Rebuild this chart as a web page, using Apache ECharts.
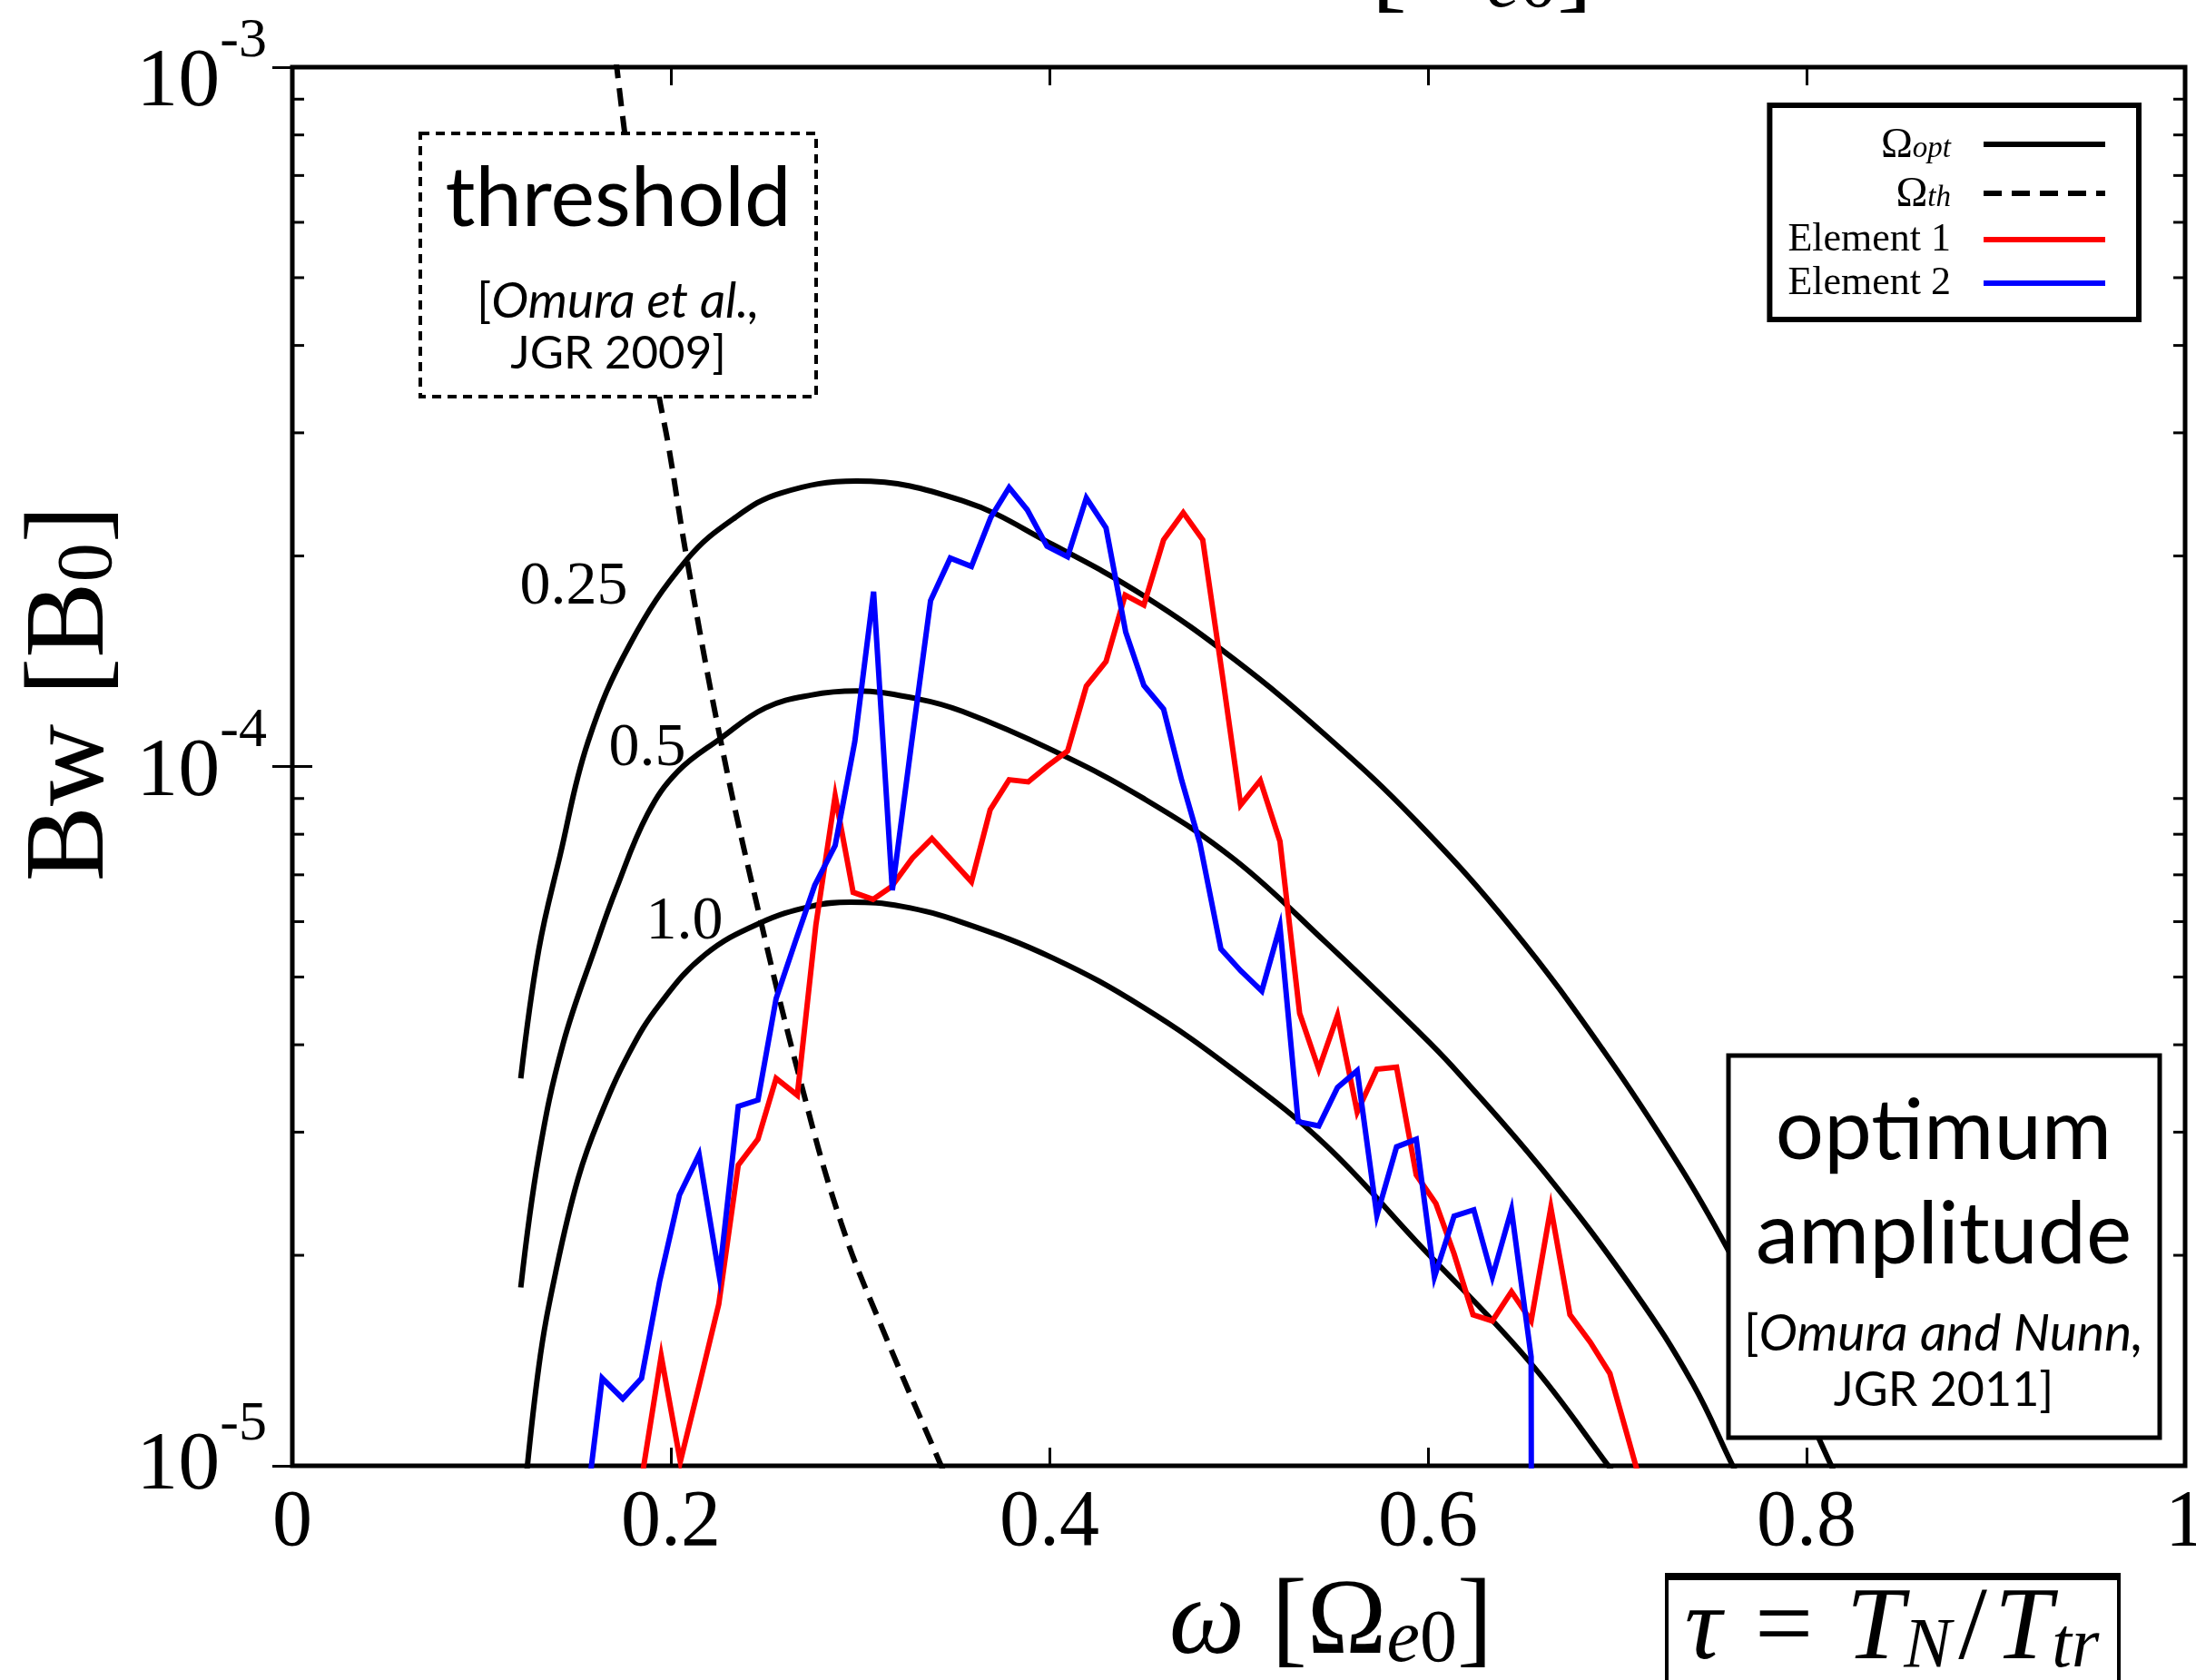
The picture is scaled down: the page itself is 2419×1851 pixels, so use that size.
<!DOCTYPE html>
<html>
<head>
<meta charset="utf-8">
<title>Bw versus wave frequency</title>
<script src="https://cdn.jsdelivr.net/npm/echarts@6/dist/echarts.min.js"></script>
<style>
  html, body { margin: 0; padding: 0; background: #fff; }
  #chart { width: 2419px; height: 1851px; }
</style>
</head>
<body>
<div id="chart"></div>
<script>
// ---- data: frequency ω [Ω_e0] and wave amplitude Bw [B0] ----

// Element 1 (simulation)
const omegaE1 = [0.1845,0.1949,0.2050,0.2152,0.2253,0.2356,0.2460,0.2556,0.2668,0.2766,0.2868,0.2963,0.3068,0.3165,0.3276,0.3379,0.3484,0.3588,0.3687,0.3787,0.3888,0.3990,0.4096,0.4195,0.4299,0.4400,0.4499,0.4603,0.4707,0.4810,0.4914,0.5010,0.5114,0.5218,0.5322,0.5423,0.5522,0.5626,0.5730,0.5834,0.5938,0.6042,0.6138,0.6238,0.6340,0.6441,0.6545,0.6649,0.6750,0.6857,0.6961,0.7057,0.7160];
const bwE1 = [9.55e-6,1.435e-5,1.014e-5,1.312e-5,1.702e-5,2.692e-5,2.931e-5,3.581e-5,3.388e-5,5.929e-5,9.078e-5,6.607e-5,6.457e-5,6.730e-5,7.396e-5,7.889e-5,7.345e-5,6.839e-5,8.670e-5,9.572e-5,9.506e-5,1.002e-4,1.052e-4,1.303e-4,1.413e-4,1.758e-4,1.702e-4,2.109e-4,2.307e-4,2.109e-4,1.349e-4,8.810e-5,9.550e-5,7.816e-5,4.436e-5,3.690e-5,4.406e-5,3.206e-5,3.690e-5,3.715e-5,2.606e-5,2.371e-5,2.009e-5,1.644e-5,1.611e-5,1.774e-5,1.611e-5,2.339e-5,1.644e-5,1.503e-5,1.355e-5,1.096e-5,8.71e-6];

// Element 2 (simulation)
const omegaE2 = [0.1535,0.1637,0.1746,0.1845,0.1940,0.2045,0.2149,0.2256,0.2356,0.2460,0.2556,0.2658,0.2760,0.2868,0.2972,0.3071,0.3170,0.3270,0.3372,0.3476,0.3588,0.3690,0.3787,0.3883,0.3987,0.4096,0.4195,0.4299,0.4403,0.4499,0.4603,0.4699,0.4795,0.4906,0.5010,0.5122,0.5218,0.5314,0.5423,0.5522,0.5626,0.5730,0.5834,0.5938,0.6034,0.6138,0.6242,0.6340,0.6441,0.6545,0.6555];
const bwE2 = [7.94e-6,1.334e-5,1.247e-5,1.334e-5,1.832e-5,2.438e-5,2.786e-5,1.866e-5,3.266e-5,3.334e-5,4.656e-5,5.623e-5,6.761e-5,7.709e-5,1.086e-4,1.778e-4,6.653e-5,1.072e-4,1.726e-4,1.986e-4,1.932e-4,2.270e-4,2.506e-4,2.328e-4,2.065e-4,1.995e-4,2.421e-4,2.193e-4,1.556e-4,1.306e-4,1.208e-4,9.55e-5,7.762e-5,5.483e-5,5.105e-5,4.775e-5,5.902e-5,3.105e-5,3.062e-5,3.475e-5,3.673e-5,2.280e-5,2.858e-5,2.931e-5,1.862e-5,2.275e-5,2.323e-5,1.862e-5,2.323e-5,1.432e-5,1e-7];

// threshold amplitude Ω_th
const omegaTh = [0.1710,0.1745,0.1830,0.1925,0.1989,0.2085,0.2261,0.2436,0.2676,0.2900,0.3130,0.3428,0.3460];
const bwTh = [1.023e-3,8.511e-4,5.623e-4,3.548e-4,2.858e-4,1.977e-4,1.096e-4,6.668e-5,3.622e-5,2.223e-5,1.542e-5,1.0e-5,9.55e-6];

// optimum amplitude Ω_opt for τ = 0.25, 0.5, 1.0
const omegaOpt025 = [0.1207,0.1302,0.1414,0.1562,0.1784,0.2085,0.2340,0.2580,0.2980,0.3540,0.4019,0.4499,0.4978,0.5458,0.5938,0.6449,0.6929,0.7329,0.7583,0.7850,0.8080,0.8200];
const bwOpt025 = [3.581e-5,5.47e-5,7.447e-5,1.084e-4,1.496e-4,1.977e-4,2.270e-4,2.460e-4,2.559e-4,2.399e-4,2.075e-4,1.754e-4,1.422e-4,1.109e-4,8.356e-5,5.848e-5,3.917e-5,2.685e-5,2.042e-5,1.479e-5,1.072e-5,9.12e-6];

const omegaOpt05 = [0.1207,0.1302,0.1429,0.1605,0.1710,0.1877,0.2037,0.2261,0.2500,0.2740,0.2980,0.3300,0.3540,0.4019,0.4499,0.4978,0.5458,0.5938,0.6129,0.6609,0.7089,0.7400,0.7610,0.7650];
const bwOpt05 = [1.799e-5,2.773e-5,3.999e-5,5.559e-5,6.668e-5,8.551e-5,9.840e-5,1.096e-4,1.213e-4,1.265e-4,1.282e-4,1.250e-4,1.199e-4,1.054e-4,8.995e-5,7.362e-5,5.610e-5,4.207e-5,3.724e-5,2.642e-5,1.778e-5,1.309e-5,1.0e-5,9.55e-6];

const omegaOpt10 = [0.1207,0.1302,0.1397,0.1510,0.1621,0.1781,0.1941,0.2181,0.2469,0.2740,0.2948,0.3220,0.3540,0.4019,0.4499,0.4978,0.5458,0.5938,0.6529,0.6953,0.7000];
const bwOpt10 = [7.94e-6,1.384e-5,1.923e-5,2.576e-5,3.133e-5,3.899e-5,4.571e-5,5.383e-5,5.970e-5,6.310e-5,6.397e-5,6.310e-5,5.984e-5,5.321e-5,4.519e-5,3.673e-5,2.877e-5,2.094e-5,1.416e-5,1.0e-5,9.55e-6];

// axis ticks
const xTicks = [0, 0.2, 0.4, 0.6, 0.8, 1];
const yMinorTicks = [2e-5,3e-5,4e-5,5e-5,6e-5,7e-5,8e-5,9e-5,2e-4,3e-4,4e-4,5e-4,6e-4,7e-4,8e-4,9e-4];

// legend entries
const legendNames = ['Ω_opt', 'Ω_th', 'Element 1', 'Element 2'];

// ---- drawing ----
const SERIF = "'Liberation Serif', 'Times New Roman', serif";
const SANS = "Lato, 'Open Sans', sans-serif";

function pairs(xs, ys) { return xs.map((x, i) => [x, ys[i]]); }

const optLine = { color: '#000', width: 6 };

// rich-text pieces for "ω [Ω_e0]"
const omegaTitleRich = {
  w: { fontFamily: SERIF, fontSize: 118, lineHeight: 118, fontStyle: 'italic', fill: '#000', verticalAlign: 'top' },
  b: { fontFamily: SERIF, fontSize: 118, lineHeight: 118, fill: '#000', verticalAlign: 'top' },
  e: { fontFamily: SERIF, fontSize: 82, lineHeight: 82, fontStyle: 'italic', fill: '#000', padding: [42, 0, 0, 0], verticalAlign: 'bottom' },
  s: { fontFamily: SERIF, fontSize: 82, lineHeight: 82, fill: '#000', padding: [42, 0, 0, 0], verticalAlign: 'bottom' }
};
const omegaTitleText = '{w|ω}{b| [Ω}{e|e}{s|0}{b|]}';

// "10" with a raised exponent; drop = downward shift of the "10" below its tick
function powerStyles(drop) {
  return {
    base: { fontFamily: SERIF, fontSize: 92, lineHeight: 92 + 2 * drop, color: '#000', verticalAlign: 'bottom' },
    exp: { fontFamily: SERIF, fontSize: 62, lineHeight: 20, color: '#000', verticalAlign: 'bottom', padding: [0, 0, 61, 0] }
  };
}
const pTop = powerStyles(18), pMid = powerStyles(7), pLow = powerStyles(1);

const chart = echarts.init(document.getElementById('chart'), null, { renderer: 'canvas' });

const option = {
  animation: false,
  backgroundColor: '#fff',
  grid: {
    left: 322, right: 12, top: 74, bottom: 236,
    outerBoundsMode: 'none', containLabel: false,
    show: true, borderColor: '#000', borderWidth: 5, backgroundColor: 'transparent'
  },
  xAxis: [
    {
      type: 'value', min: xTicks[0], max: xTicks[xTicks.length - 1], interval: 0.2,
      position: 'bottom',
      axisLine: { show: false },
      axisTick: { inside: true, length: 20, lineStyle: { color: '#000', width: 3 } },
      splitLine: { show: false },
      axisLabel: {
        margin: 20, fontFamily: SERIF, fontSize: 88, color: '#000',
        formatter: v => String(+v.toFixed(1))
      }
    },
    {
      type: 'value', min: xTicks[0], max: xTicks[xTicks.length - 1], interval: 0.2,
      position: 'top',
      axisLine: { show: false },
      axisTick: { inside: true, length: 20, lineStyle: { color: '#000', width: 3 } },
      splitLine: { show: false },
      axisLabel: { show: false }
    }
  ],
  yAxis: [
    {
      type: 'log', logBase: 10, min: 1e-5, max: 1e-3,
      position: 'left',
      axisLine: { show: false },
      axisTick: { inside: true, length: 22, lineStyle: { color: '#000', width: 3 } },
      splitLine: { show: false },
      axisLabel: {
        margin: 28,
        formatter: v => {
          const e = Math.round(Math.log10(v));
          const k = e === -3 ? 't' : (e === -4 ? 'm' : 'l');
          return '{' + k + 'b|10}{' + k + 'e|' + e + '}';
        },
        rich: {
          tb: pTop.base, te: pTop.exp,
          mb: pMid.base, me: pMid.exp,
          lb: pLow.base, le: pLow.exp
        }
      }
    },
    {
      type: 'log', logBase: 10, min: 1e-5, max: 1e-3,
      position: 'right',
      axisLine: { show: false },
      axisTick: { inside: true, length: 22, lineStyle: { color: '#000', width: 3 } },
      splitLine: { show: false },
      axisLabel: { show: false }
    }
  ],
  legend: {
    data: legendNames,
    orient: 'vertical',
    align: 'right',
    right: 63,
    top: 116,
    itemWidth: 134,
    itemHeight: 14,
    itemGap: 4,
    padding: [18, 34, 18, 20],
    borderColor: '#000',
    borderWidth: 6,
    backgroundColor: '#fff',
    selectedMode: false,
    itemStyle: { opacity: 0 },
    lineStyle: { width: 6 },
    formatter: n => {
      if (n === 'Ω_opt') return '{om|Ω}{sub|opt}';
      if (n === 'Ω_th') return '{om|Ω}{sub|th}';
      return '{tx|' + n + '}';
    },
    textStyle: {
      color: '#000', fontFamily: SERIF, fontSize: 44, padding: [0, 31, 0, 0],
      rich: {
        om: { fontFamily: SERIF, fontSize: 47, lineHeight: 44, color: '#000', verticalAlign: 'top' },
        sub: { fontFamily: SERIF, fontSize: 33, lineHeight: 30, fontStyle: 'italic', color: '#000', padding: [14, 0, 0, 0], verticalAlign: 'bottom' },
        tx: { fontFamily: SERIF, fontSize: 44, lineHeight: 44, color: '#000' }
      }
    }
  },
  series: [
    {
      name: 'Ω_opt', type: 'line', data: pairs(omegaOpt025, bwOpt025),
      symbol: 'none', smooth: 0.4, lineStyle: optLine, color: '#000', z: 3
    },
    {
      name: 'Ω_opt', type: 'line', data: pairs(omegaOpt05, bwOpt05),
      symbol: 'none', smooth: 0.4, lineStyle: optLine, color: '#000', z: 3
    },
    {
      name: 'Ω_opt', type: 'line', data: pairs(omegaOpt10, bwOpt10),
      symbol: 'none', smooth: 0.4, lineStyle: optLine, color: '#000', z: 3
    },
    {
      name: 'Ω_th', type: 'line', data: pairs(omegaTh, bwTh),
      symbol: 'none', smooth: 0.4, color: '#000',
      lineStyle: { color: '#000', width: 6, type: [20, 11] }, z: 3
    },
    {
      name: 'Element 1', type: 'line', data: pairs(omegaE1, bwE1),
      symbol: 'none', color: '#ff0000',
      lineStyle: { color: '#ff0000', width: 6, join: 'miter' }, z: 4
    },
    {
      name: 'Element 2', type: 'line', data: pairs(omegaE2, bwE2),
      symbol: 'none', color: '#0000ff',
      lineStyle: { color: '#0000ff', width: 6, join: 'miter' }, z: 5
    },
    {
      // minor ticks at 2..9 × 10^n on both vertical frame edges
      name: 'minor ticks', type: 'custom', silent: true, clip: false, z: 6,
      data: yMinorTicks.map(v => [0, v]),
      renderItem: (params, api) => {
        const cs = params.coordSys;
        const y = api.coord([0, api.value(1)])[1];
        const st = { stroke: '#000', lineWidth: 3 };
        return {
          type: 'group',
          children: [
            { type: 'line', shape: { x1: cs.x, y1: y, x2: cs.x + 13, y2: y }, style: st },
            { type: 'line', shape: { x1: cs.x + cs.width - 13, y1: y, x2: cs.x + cs.width, y2: y }, style: st }
          ]
        };
      }
    }
  ],
  graphic: [
    // curve labels (τ values)
    { type: 'text', z: 90, x: 632, y: 647, style: { text: '0.25', fontFamily: SERIF, fontSize: 68, fill: '#000', align: 'center', verticalAlign: 'middle' } },
    { type: 'text', z: 90, x: 713, y: 825, style: { text: '0.5', fontFamily: SERIF, fontSize: 68, fill: '#000', align: 'center', verticalAlign: 'middle' } },
    { type: 'text', z: 90, x: 754, y: 1016, style: { text: '1.0', fontFamily: SERIF, fontSize: 68, fill: '#000', align: 'center', verticalAlign: 'middle' } },

    // threshold note
    { type: 'rect', z: 100, shape: { x: 463, y: 147, width: 436, height: 290 },
      style: { fill: '#fff', stroke: '#000', lineWidth: 4, lineDash: [10, 7] } },
    { type: 'text', z: 101, x: 681, y: 219,
      style: { text: 'threshold', fontFamily: SANS, fontSize: 92, fill: '#000', align: 'center', verticalAlign: 'middle' } },
    { type: 'text', z: 101, x: 681, y: 332,
      style: { text: '{u|[}{i|Omura et al.,}', align: 'center', verticalAlign: 'middle',
        rich: { u: { fontFamily: SANS, fontSize: 52, fill: '#000' },
                i: { fontFamily: SANS, fontSize: 55, fontStyle: 'italic', fill: '#000' } } } },
    { type: 'text', z: 101, x: 681, y: 390,
      style: { text: 'JGR 2009]', fontFamily: SANS, fontSize: 51, fill: '#000', align: 'center', verticalAlign: 'middle' } },

    // optimum amplitude note
    { type: 'rect', z: 100, shape: { x: 1904, y: 1163, width: 475, height: 421 },
      style: { fill: '#fff', stroke: '#000', lineWidth: 5 } },
    { type: 'text', z: 101, x: 2141, y: 1247,
      style: { text: 'optimum', fontFamily: SANS, fontSize: 94, fill: '#000', align: 'center', verticalAlign: 'middle' } },
    { type: 'text', z: 101, x: 2141, y: 1361,
      style: { text: 'amplitude', fontFamily: SANS, fontSize: 95, fill: '#000', align: 'center', verticalAlign: 'middle' } },
    { type: 'text', z: 101, x: 2141, y: 1470,
      style: { text: '{u|[}{i|Omura and Nunn,}', align: 'center', verticalAlign: 'middle',
        rich: { u: { fontFamily: SANS, fontSize: 54, fill: '#000' },
                i: { fontFamily: SANS, fontSize: 57, fontStyle: 'italic', fill: '#000' } } } },
    { type: 'text', z: 101, x: 2141, y: 1532,
      style: { text: 'JGR 2011]', fontFamily: SANS, fontSize: 52, fill: '#000', align: 'center', verticalAlign: 'middle' } },

    // axis titles
    { type: 'text', z: 101, x: 80, y: 764, rotation: Math.PI / 2,
      style: { text: '{b|Bw [B}{sub|0}{b|]}', align: 'center', verticalAlign: 'middle',
        rich: { b: { fontFamily: SERIF, fontSize: 125, lineHeight: 125, fill: '#000', verticalAlign: 'top' },
                sub: { fontFamily: SERIF, fontSize: 86, lineHeight: 86, fill: '#000', padding: [44, 0, 0, 0], verticalAlign: 'bottom' } } } },
    { type: 'text', z: 101, x: 1466, y: 1790,
      style: { text: omegaTitleText, align: 'center', verticalAlign: 'middle', rich: omegaTitleRich } },
    // x title of the panel above, cut by the top edge
    { type: 'text', z: 101, x: 1576, y: -33,
      style: { text: omegaTitleText, align: 'center', verticalAlign: 'middle', rich: omegaTitleRich } },

    // τ definition box
    { type: 'rect', z: 100, shape: { x: 1836, y: 1737, width: 498, height: 140 },
      style: { fill: '#fff', stroke: '#000', lineWidth: 4 } },
    { type: 'line', z: 101, shape: { x1: 1834, y1: 1737, x2: 2336, y2: 1737 },
      style: { stroke: '#000', lineWidth: 8 } },
    { type: 'text', z: 102, x: 2084, y: 1797,
      style: { text: '{i|τ}{r| = }{i|T}{sub|N}{r|/}{i|T}{sub|tr}', align: 'center', verticalAlign: 'middle',
        rich: { i: { fontFamily: SERIF, fontSize: 114, lineHeight: 114, fontStyle: 'italic', fill: '#000', verticalAlign: 'top' },
                r: { fontFamily: SERIF, fontSize: 114, lineHeight: 114, fill: '#000', verticalAlign: 'top', padding: [0, 8, 0, 8] },
                sub: { fontFamily: SERIF, fontSize: 78, lineHeight: 78, fontStyle: 'italic', fill: '#000', padding: [42, 0, 0, 0], verticalAlign: 'bottom' } } } }
  ]
};

chart.setOption(option);
</script>
</body>
</html>
